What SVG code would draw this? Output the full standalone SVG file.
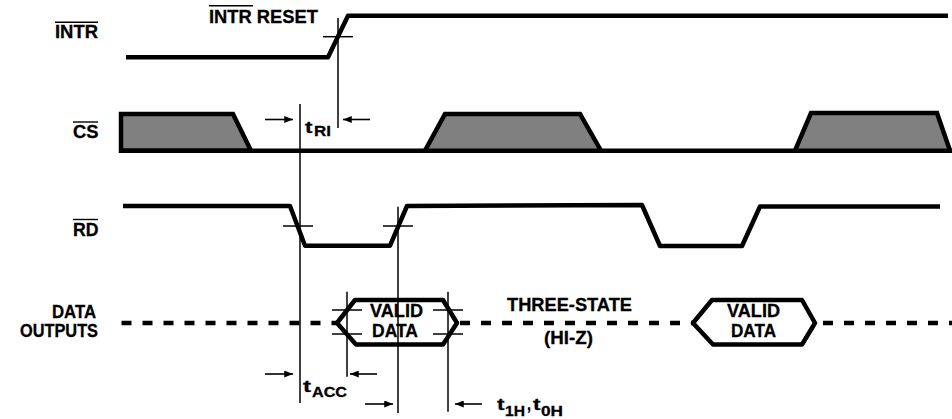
<svg xmlns="http://www.w3.org/2000/svg" width="952" height="419" viewBox="0 0 952 419">
<defs>
<style>
.sig{fill:none;stroke:#000;stroke-width:4.5;stroke-linejoin:round}
.cs{fill:#808080;stroke:#000;stroke-width:4.5;stroke-linejoin:miter}
.dash{fill:none;stroke:#000;stroke-width:4.5;stroke-dasharray:10 11}
.thin{fill:none;stroke:#000;stroke-width:1.5}
.bar{stroke:#000;stroke-width:1.4}
.arr{fill:none;stroke:#000;stroke-width:1.6;marker-end:url(#ah)}
text{font-family:"Liberation Sans",Arial,sans-serif;font-weight:bold;font-size:18px;fill:#000;stroke:#000;stroke-width:0.3}
.sub{font-size:15px}
.t{font-size:17px}
</style>
<marker id="ah" viewBox="0 0 10 8" refX="10" refY="4" markerWidth="11" markerHeight="7" markerUnits="userSpaceOnUse" orient="auto">
<path d="M0,0 L10,4 L0,8 z" fill="#000"/>
</marker>
</defs>
<rect width="952" height="419" fill="#fff"/>

<g id="labels">
<line class="bar" x1="55" y1="22.3" x2="98" y2="22.3"/>
<text x="55" y="37.7" textLength="43" lengthAdjust="spacingAndGlyphs">INTR</text>
<line class="bar" x1="73" y1="122" x2="98" y2="122"/>
<text x="73" y="138.3" textLength="25.5" lengthAdjust="spacingAndGlyphs">CS</text>
<line class="bar" x1="73" y1="219.5" x2="98" y2="219.5"/>
<text x="73" y="235.7" textLength="25.5" lengthAdjust="spacingAndGlyphs">RD</text>
<text x="52" y="318" textLength="44" lengthAdjust="spacingAndGlyphs">DATA</text>
<text x="20" y="336.7" textLength="78" lengthAdjust="spacingAndGlyphs">OUTPUTS</text>
</g>

<g id="intr">
<polyline class="sig" points="126,57.3 328,57.3 348,15.7 948,15.7"/>
<line class="bar" x1="209" y1="5.7" x2="253" y2="5.7"/>
<text x="209" y="22.7" textLength="109" lengthAdjust="spacingAndGlyphs">INTR RESET</text>
</g>

<g id="cs">
<polygon class="cs" points="121,114 233,114 251,150.7 121,150.7"/>
<line class="sig" x1="119" y1="150.7" x2="952" y2="150.7"/>
<polygon class="cs" points="425,150.7 445,114 580,114 601,150.7"/>
<polygon class="cs" points="795,150.7 811,113 937,113 950,150.7"/>
</g>

<g id="rd">
<polyline class="sig" points="123,206 290,206 305,245.7 390,245.7 407,206 642,205 660,246 742,246 760,206.5 940,206.5"/>
</g>

<g id="data">
<line class="dash" x1="121.5" y1="323" x2="338" y2="323"/>
<line class="dash" x1="460" y1="323" x2="694" y2="323"/>
<line class="dash" x1="823" y1="323" x2="952" y2="323"/>
<polygon class="sig" points="337,323 355,300 443,300 457,323 443,344.5 356,344.5" fill="#fff"/>
<polygon class="sig" points="693,323 712,300 802,300 815,323 802,344.5 713,344.5" fill="#fff"/>
<text x="370" y="316.7" textLength="53" lengthAdjust="spacingAndGlyphs">VALID</text>
<text x="372" y="336.7" textLength="46" lengthAdjust="spacingAndGlyphs">DATA</text>
<text x="727" y="316.7" textLength="53" lengthAdjust="spacingAndGlyphs">VALID</text>
<text x="731" y="336.7" textLength="45" lengthAdjust="spacingAndGlyphs">DATA</text>
<text x="507" y="310.7" textLength="125" lengthAdjust="spacingAndGlyphs">THREE-STATE</text>
<text x="544" y="344" textLength="49" lengthAdjust="spacingAndGlyphs">(HI-Z)</text>
</g>

<g id="connectors">
<line class="thin" x1="338" y1="18" x2="338" y2="128"/>
<line class="thin" x1="323" y1="36.7" x2="353" y2="36.7"/>
<line class="thin" x1="300" y1="104" x2="300" y2="403"/>
<line class="thin" x1="283" y1="226" x2="313" y2="226"/>
<line class="thin" x1="398" y1="206.7" x2="398" y2="413"/>
<line class="thin" x1="383" y1="226" x2="413" y2="226"/>
<line class="thin" x1="347" y1="291.7" x2="347" y2="376.7"/>
<line class="thin" x1="448" y1="291.7" x2="448" y2="411.7"/>
<line class="thin" x1="332" y1="310" x2="362" y2="310"/>
<line class="thin" x1="332" y1="334" x2="362" y2="334"/>
<line class="thin" x1="433" y1="310" x2="463" y2="310"/>
<line class="thin" x1="433" y1="334" x2="463" y2="334"/>
<line class="arr" x1="265" y1="119.5" x2="293" y2="119.5"/>
<line class="arr" x1="370" y1="119.5" x2="343" y2="119.5"/>
<line class="arr" x1="265" y1="374" x2="293" y2="374"/>
<line class="arr" x1="377" y1="374" x2="350" y2="374"/>
<line class="arr" x1="365" y1="404" x2="393" y2="404"/>
<line class="arr" x1="482" y1="404" x2="455" y2="404"/>
<text class="t" x="305" y="133.3" textLength="7.5" lengthAdjust="spacingAndGlyphs">t</text>
<text class="sub" x="314" y="136.3" textLength="17" lengthAdjust="spacingAndGlyphs">RI</text>
<text class="t" x="303" y="391.7" textLength="8" lengthAdjust="spacingAndGlyphs">t</text>
<text class="sub" x="312" y="396.7" textLength="35" lengthAdjust="spacingAndGlyphs">ACC</text>
<text class="t" x="497" y="409.5" textLength="7.5" lengthAdjust="spacingAndGlyphs">t</text>
<text class="sub" x="505" y="415.5" textLength="20" lengthAdjust="spacingAndGlyphs">1H</text>
<text class="t" x="527" y="410" textLength="4" lengthAdjust="spacingAndGlyphs">,</text>
<text class="t" x="533" y="409.5" textLength="7.5" lengthAdjust="spacingAndGlyphs">t</text>
<text class="sub" x="541" y="415.5" textLength="22" lengthAdjust="spacingAndGlyphs">0H</text>
</g>
</svg>
